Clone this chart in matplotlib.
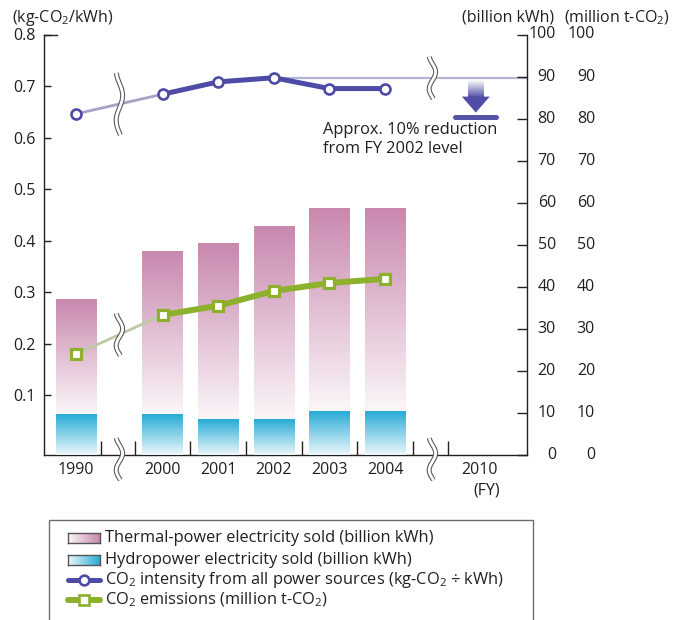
import numpy as np
import matplotlib
matplotlib.use("Agg")
import matplotlib.pyplot as plt
from matplotlib.patches import Rectangle, Polygon
from matplotlib.colors import LinearSegmentedColormap
from matplotlib.lines import Line2D
from matplotlib.transforms import IdentityTransform

plt.rcParams['font.family'] = ['Open Sans', 'DejaVu Sans']
plt.rcParams['mathtext.default'] = 'regular'

# ---- data -------------------------------------------------------------
years = ['1990', '2000', '2001', '2002', '2003', '2004', '2010']
xpos = [0.0, 1.55, 2.55, 3.55, 4.55, 5.55, 7.25]
hydro = [9.7, 9.7, 8.5, 8.5, 10.4, 10.4]            # billion kWh
thermal = [27.5, 38.9, 41.8, 45.9, 48.3, 48.3]      # billion kWh (stacked on hydro)
intensity = [0.646, 0.684, 0.708, 0.716, 0.695, 0.695]  # kg-CO2/kWh
emissions = [24.0, 33.3, 35.5, 39.0, 40.9, 41.9]    # million t-CO2
reduction = 0.10                                    # target vs FY2002
left_ticks = [0.1, 0.2, 0.3, 0.4, 0.5, 0.6, 0.7, 0.8]
right_ticks = [0, 10, 20, 30, 40, 50, 60, 70, 80, 90, 100]

# ---- style ------------------------------------------------------------
TXT = '#231f20'
PURPLE = '#4d4ba5'
PURPLE_THIN = '#a6a4c6'
GREEN = '#8db12c'
GREEN_THIN = '#bccba4'
TARGET = '#b6b4d6'
FS = 11.5
FS_NOTE = 11.8
thermal_cmap = LinearSegmentedColormap.from_list('th', ['#fbf6f9', '#c888ae'])
hydro_cmap = LinearSegmentedColormap.from_list('hy', ['#eef7fb', '#27acd5'])
arrow_cmap = LinearSegmentedColormap.from_list('ar', ['#ffffff', '#5553aa'])

W, H = 690, 620
fig = plt.figure(figsize=(W / 100, H / 100), dpi=100)


def fx(px):
    return px / W


def fy(py):
    return 1 - py / H


ax = fig.add_axes([fx(44), fy(455), fx(527) - fx(44), fy(34.5) - fy(455)])
ax2 = ax.twinx()
ax.patch.set_alpha(0)
XLIM = (-0.58, 8.10)
ax.set_xlim(*XLIM)
ax.set_ylim(-0.0165, 0.8)
ax2.set_ylim(0, 100)

for a in (ax, ax2):
    a.spines['top'].set_visible(False)
ax.spines['right'].set_visible(False)
ax2.spines['left'].set_visible(False)
ax2.spines['bottom'].set_visible(False)
for s in ('left', 'bottom'):
    ax.spines[s].set_linewidth(1.0)
    ax.spines[s].set_color(TXT)
ax2.spines['right'].set_linewidth(1.0)
ax2.spines['right'].set_color(TXT)

# ---- stacked gradient bars -------------------------------------------
bar_w = 0.72
bx = xpos[:len(hydro)]
hb = ax2.bar(bx, hydro, bar_w, color='none', edgecolor='none')
tb = ax2.bar(bx, thermal, bar_w, bottom=hydro, color='none', edgecolor='none')
grad = np.linspace(0, 1, 256).reshape(-1, 1)
for cont, cmap in ((hb, hydro_cmap), (tb, thermal_cmap)):
    for p in cont.patches:
        x0, y0, w, h = p.get_x(), p.get_y(), p.get_width(), p.get_height()
        im = ax2.imshow(grad, cmap=cmap, origin='lower', aspect='auto',
                        extent=[x0, x0 + w, y0, y0 + h], zorder=1,
                        interpolation='bilinear')
        im.set_clip_path(p)
ax2.set_xlim(*XLIM)
ax2.set_ylim(0, 100)

# ---- CO2 emissions line (right axis) --------------------------------
ax2.plot(xpos[:2], emissions[:2], color=GREEN_THIN, lw=2.0, zorder=3,
         solid_capstyle='butt')
ax2.plot(xpos[1:6], emissions[1:], color=GREEN, lw=4.3, zorder=4,
         solid_joinstyle='round')
ax2.plot(xpos[:6], emissions, ls='none', marker='s', ms=7.5, mfc='white',
         mec=GREEN, mew=2.3, zorder=5)

# ---- CO2 intensity line (left axis) ---------------------------------
base = intensity[3]
target = base * (1 - reduction)
ax.plot([xpos[3], XLIM[1]], [base, base], color=TARGET, lw=1.6, zorder=2,
        clip_on=False)
ax.plot(xpos[:2], intensity[:2], color=PURPLE_THIN, lw=2.0, zorder=3)
ax.plot(xpos[1:6], intensity[1:], color=PURPLE, lw=3.6, zorder=4,
        solid_joinstyle='round')
ax.plot(xpos[:6], intensity, ls='none', marker='o', ms=7.2, mfc='white',
        mec=PURPLE, mew=1.9, zorder=5)

# target arrow for FY2010
ax_x = xpos[6] - 0.07
shaft_w, head_w = 0.27, 0.50
shaft_top, head_top = base - 0.004, target + 0.035
shaft = Rectangle((ax_x - shaft_w / 2, head_top), shaft_w, shaft_top - head_top,
                  facecolor='none', edgecolor='none')
ax.add_patch(shaft)
im = ax.imshow(grad[::-1], cmap=arrow_cmap, origin='lower', aspect='auto',
               extent=[ax_x - shaft_w / 2, ax_x + shaft_w / 2, head_top, shaft_top],
               zorder=3, interpolation='bilinear')
im.set_clip_path(shaft)
ax.add_patch(Polygon([[ax_x - head_w / 2, head_top], [ax_x + head_w / 2, head_top],
                      [ax_x, target + 0.004]], closed=True, facecolor='#4f4da6',
                     edgecolor='none', zorder=3))
ax.plot([ax_x - 0.37, ax_x + 0.37], [target - 0.004, target - 0.004], color='#5553aa',
        lw=3.6, solid_capstyle='round', zorder=3)
ax.text(xpos[6] + 0.32, target - 0.015,
        'Approx. %d%% reduction\nfrom FY 2002 level' % round(reduction * 100),
        ha='right', va='top', multialignment='left', fontsize=FS_NOTE,
        color=TXT, linespacing=1.2)
ax.set_xlim(*XLIM)
ax.set_ylim(-0.0165, 0.8)

# ---- ticks ------------------------------------------------------------
ax.set_yticks(left_ticks)
ax.set_yticklabels(['%.1f' % v for v in left_ticks])
ax.tick_params(axis='y', direction='in', length=5, width=1.0, color=TXT,
               labelsize=FS, labelcolor=TXT, pad=6)
ax.plot([0, 13 / 483], [1, 1], transform=ax.transAxes, color=TXT, lw=1.0,
        clip_on=False)

ax.set_xticks(xpos)
ax.set_xticklabels(years)
ax.tick_params(axis='x', length=0, labelsize=FS, labelcolor=TXT, pad=5)
sep = [xpos[0] + 0.45] + [p - 0.5 for p in xpos[1:6]] + [xpos[5] + 0.5, xpos[6] - 0.57]
ax.set_xticks(sep, minor=True)
ax.tick_params(axis='x', which='minor', direction='in', length=10, width=1.0,
               color=TXT)
ax.text(xpos[6] + 0.12, -0.069, '(FY)', ha='center', va='top', fontsize=FS,
        color=TXT)

ax2.set_yticks(right_ticks)
ax2.set_yticklabels([])
ax2.tick_params(axis='y', direction='in', length=7, width=1.0, color=TXT)
ytr = ax2.get_yaxis_transform()
for v in right_ticks:
    ax2.text(1.0 + (556 - 527) / 483, v, str(v), transform=ytr, ha='right',
             va='center', fontsize=FS, color=TXT, clip_on=False)
    ax2.text(1.0 + (595 - 527) / 483, v, str(v), transform=ytr, ha='right',
             va='center', fontsize=FS, color=TXT, clip_on=False)

# axis unit headers
fig.text(fx(12), fy(18), '(kg-CO$_2$/kWh)', ha='left', va='center',
         fontsize=FS, color=TXT)
fig.text(fx(554), fy(18), '(billion kWh)', ha='right', va='center',
         fontsize=FS, color=TXT)
fig.text(fx(564), fy(18), '(million t-CO$_2$)', ha='left', va='center',
         fontsize=FS, color=TXT)

# ---- axis-break squiggles --------------------------------------------
fig.canvas.draw()


def squiggle(X, Y, height):
    t = np.linspace(-0.5, 0.5, 120)
    xs = X + 3.2 * np.sin(2 * np.pi * 1.25 * t + 0.5)
    ys = Y + t * height
    for lw, c in ((3.6, '#5a5a5a'), (2.0, 'white')):
        fig.add_artist(Line2D(xs, ys, lw=lw, color=c, transform=IdentityTransform(),
                              zorder=10, solid_capstyle='butt'))


gap1 = (xpos[0] + xpos[1]) / 2
gap2 = (xpos[5] + xpos[6]) / 2
X1, Y1 = ax.transData.transform((gap1, np.interp(gap1, xpos[:2], intensity[:2])))
squiggle(X1, Y1, 62)
X2, Y2 = ax2.transData.transform((gap1, np.interp(gap1, xpos[:2], emissions[:2])))
squiggle(X2, Y2, 42)
X3, Y3 = ax.transData.transform((gap2, base))
squiggle(X3, Y3, 42)
Xb1, Yb = ax.transData.transform((gap1, ax.get_ylim()[0]))
squiggle(Xb1, Yb - 4, 42)
Xb2, _ = ax.transData.transform((gap2, ax.get_ylim()[0]))
squiggle(Xb2, Yb - 4, 42)

# ---- legend -----------------------------------------------------------
fig.add_artist(Rectangle((fx(49), fy(640)), fx(533) - fx(49), fy(520) - fy(640),
                         transform=fig.transFigure, facecolor='none',
                         edgecolor='#6d6d6d', lw=1.0))
rows = [538, 560, 580, 600]
labels = ['Thermal-power electricity sold (billion kWh)',
          'Hydropower electricity sold (billion kWh)',
          'CO$_2$ intensity from all power sources (kg-CO$_2$ \u00f7 kWh)',
          'CO$_2$ emissions (million t-CO$_2$)']
hgrad = np.linspace(0, 1, 256).reshape(1, -1)
for r, cmap in zip(rows[:2], (thermal_cmap, hydro_cmap)):
    sa = fig.add_axes([fx(68), fy(r + 5), fx(100) - fx(68), fy(r - 5) - fy(r + 5)])
    sa.imshow(hgrad, cmap=cmap, aspect='auto')
    sa.set_xticks([])
    sa.set_yticks([])
    for s in sa.spines.values():
        s.set_color('#555555')
        s.set_linewidth(1.0)
for r, col, mk, lw, ms in ((rows[2], PURPLE, 'o', 3.6, 7.0),
                           (rows[3], GREEN, 's', 4.3, 7.0)):
    fig.add_artist(Line2D([fx(68), fx(100)], [fy(r), fy(r)], color=col, lw=lw,
                          transform=fig.transFigure, solid_capstyle='round'))
    fig.add_artist(Line2D([fx(84)], [fy(r)], marker=mk, ms=ms, mfc='white',
                          mec=col, mew=1.9, transform=fig.transFigure))
for r, lab in zip(rows, labels):
    fig.text(fx(105), fy(r), lab, ha='left', va='center', fontsize=FS_NOTE,
             color=TXT)

fig.savefig('out.png', dpi=100)
